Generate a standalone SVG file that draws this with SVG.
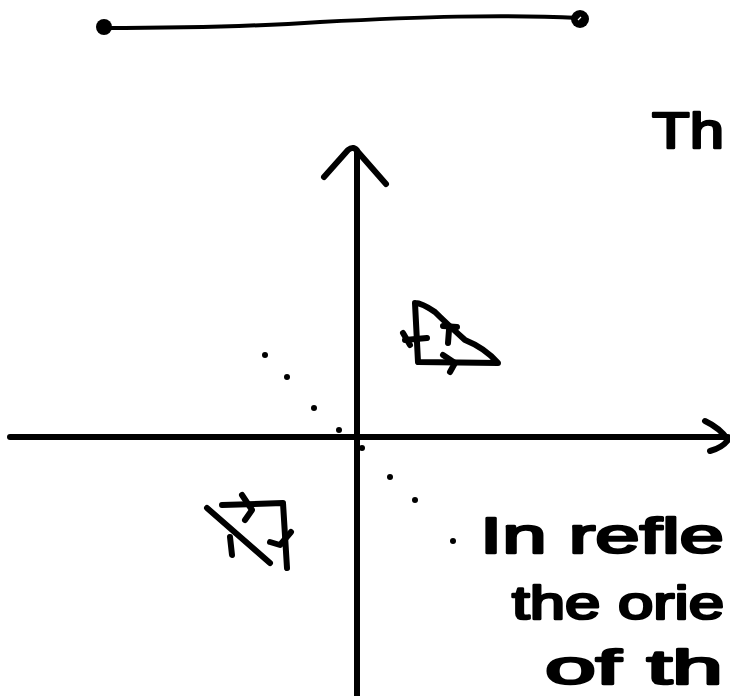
<svg xmlns="http://www.w3.org/2000/svg" width="730" height="696" viewBox="0 0 730 696">
<style>
.ink{fill:none;stroke:#000;stroke-width:6;stroke-linecap:round;stroke-linejoin:round}
.thin{fill:none;stroke:#000;stroke-width:4;stroke-linecap:round;stroke-linejoin:round}
.dot{fill:#000}
.hand{font-family:"Liberation Sans","DejaVu Sans",sans-serif;font-weight:normal;fill:#000;stroke:#000;stroke-width:2.5;stroke-linejoin:round}
</style>
<rect width="730" height="696" fill="#fff"/>
<g id="segment">
<path class="thin" d="M104 28 C200 28 260 26 320 22 C420 17 500 14 579 18"/>
<circle class="dot" cx="104" cy="27" r="8"/>
<circle class="dot" cx="580" cy="19" r="9"/>
<path d="M578 20 l3 -3" stroke="#fff" stroke-width="1.2"/>
</g>
<g id="axes">
<path class="ink" d="M357 152 L357 696"/>
<path class="ink" d="M324 177 L348 150 Q354 145 358 152 L386 184"/>
<path class="ink" d="M10 437 L728 437"/>
<path class="ink" d="M705 421 Q720 428 728 440 Q722 448 710 451"/>
</g>
<g id="reflection-line">
<circle class="dot" cx="265" cy="355" r="3"/>
<circle class="dot" cx="287" cy="377" r="3"/>
<circle class="dot" cx="314" cy="408" r="3"/>
<circle class="dot" cx="339" cy="430" r="3"/>
<circle class="dot" cx="362" cy="448" r="3"/>
<circle class="dot" cx="390" cy="477" r="3"/>
<circle class="dot" cx="415" cy="500" r="3"/>
<circle class="dot" cx="453" cy="541" r="3"/>
</g>
<g id="triangle-original">
<path class="ink" d="M415 303 L418 362 L498 363 Q485 348 465 340 Q445 322 435 312 Q422 303 415 303"/>
<path class="ink" d="M403 333 L410 345 M405 340 L427 338"/>
<path class="ink" d="M448 343 L449 330 M443 326 L457 327"/>
<path class="ink" d="M443 355 L455 363 L450 372"/>
</g>
<g id="triangle-reflected">
<path class="ink" d="M222 505 L283 503 L287 568"/>
<path class="ink" d="M207 508 L270 563"/>
<path class="ink" d="M242 495 L252 510 L245 520"/>
<path class="ink" d="M230 537 L232 555"/>
<path class="ink" d="M270 542 L280 545 L291 532"/>
</g>
<g id="labels">
<text class="hand" x="652" y="148" font-size="50" textLength="72" lengthAdjust="spacingAndGlyphs">Th</text>
<text class="hand" x="480" y="553" font-size="50" textLength="244" lengthAdjust="spacingAndGlyphs">In refle</text>
<text class="hand" x="512" y="619" font-size="46" textLength="212" lengthAdjust="spacingAndGlyphs">the orie</text>
<text class="hand" x="545" y="684" font-size="48" textLength="178" lengthAdjust="spacingAndGlyphs">of th</text>
</g>
</svg>
